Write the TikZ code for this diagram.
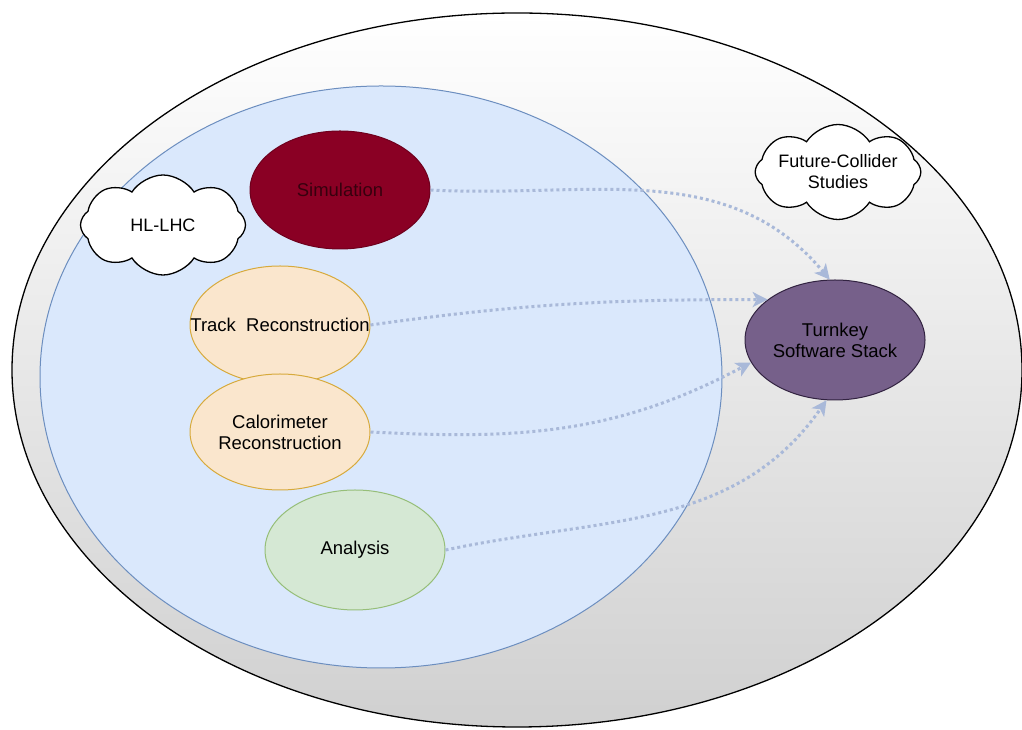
\documentclass[tikz,border=0pt]{standalone}
\usepackage{fontspec}
\setmainfont{Liberation Sans}
\usetikzlibrary{shapes.geometric,shapes.symbols,arrows.meta}
\definecolor{outerbot}{RGB}{208,208,208}
\definecolor{innerfill}{RGB}{218,232,252}
\definecolor{innerdraw}{RGB}{108,142,191}
\definecolor{simfill}{RGB}{138,0,36}
\definecolor{simtext}{RGB}{55,0,14}
\definecolor{orfill}{RGB}{250,230,205}
\definecolor{ordraw}{RGB}{215,170,60}
\definecolor{grfill}{RGB}{213,232,212}
\definecolor{grdraw}{RGB}{150,190,120}
\definecolor{pufill}{RGB}{118,96,138}
\definecolor{pudraw}{RGB}{50,35,65}
\definecolor{arrcol}{RGB}{169,185,217}
\tikzset{
  task/.style={ellipse, minimum width=180pt, minimum height=118pt, inner sep=0pt, align=center, font=\fontsize{18.5}{21}\selectfont, line width=1pt},
  cloudbox/.style={cloud, cloud puffs=8, cloud puff arc=115, cloud ignores aspect, draw=black, line width=1.3pt, fill=white, align=center, inner sep=0pt, font=\fontsize{18}{21}\selectfont},
  flow/.style={draw=arrcol, line width=3pt, dash pattern=on 3pt off 3pt, -{Stealth[length=15pt,width=15pt,inset=4pt]}}
}
\begin{document}
\begin{tikzpicture}[x=1pt,y=1pt]
\useasboundingbox (0,0) rectangle (1022,730);
\shade[top color=white, bottom color=outerbot, draw=black, line width=1.3pt] (517,360) ellipse [x radius=505, y radius=357];
\node[ellipse, draw=innerdraw, fill=innerfill, line width=1pt, minimum width=682pt, minimum height=582pt, inner sep=0pt] (inner) at (381,353) {};
\node[task, fill=simfill, draw=simfill!80!black, text=simtext] (sim) at (340,540) {Simulation};
\node[task, fill=orfill, draw=ordraw] (track) at (280,405) {\makebox[0pt]{Track\ \ Reconstruction}};
\node[task, fill=orfill, draw=ordraw, minimum height=116pt] (calo) at (280,298) {Calorimeter\\Reconstruction};
\node[task, fill=grfill, draw=grdraw, minimum height=120pt] (ana) at (355,180) {Analysis};
\node[task, fill=pufill, draw=pudraw, minimum height=120pt] (turn) at (835,390) {Turnkey\\Software Stack};
\node[cloudbox, minimum width=165pt, minimum height=100pt] (hl) at (163,505) {HL-LHC};
\node[cloudbox, minimum width=162pt, minimum height=95pt] (fc) at (838,558) {Future-Collider\\Studies};
\draw[flow] (sim.east) to[out=-3, in=130] (turn.95);
\draw[flow] (track.east) to[out=8, in=180] (turn.149);
\draw[flow] (calo.east) to[out=-3, in=208] (turn.195);
\draw[flow] (ana.east) to[out=12, in=235] (turn.262);
\end{tikzpicture}
\end{document}
